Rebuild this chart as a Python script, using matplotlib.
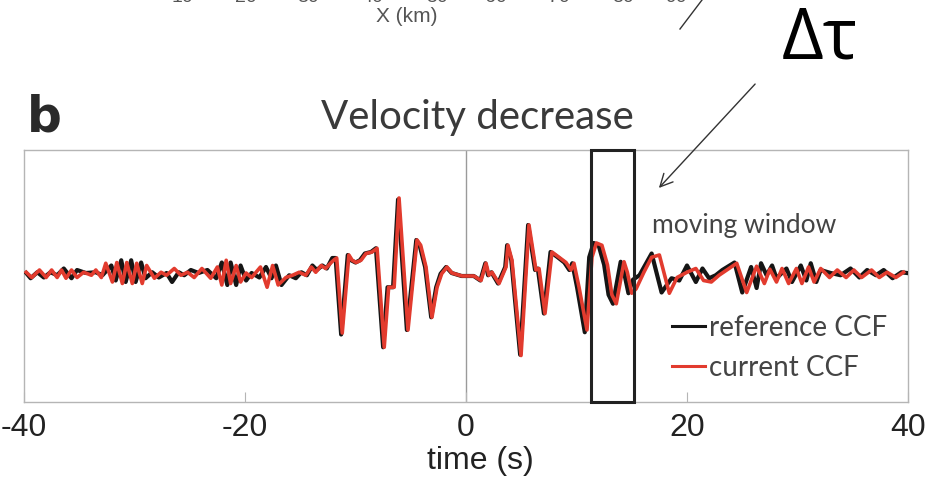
import matplotlib.pyplot as plt
from matplotlib.lines import Line2D
from matplotlib.patches import Rectangle
import matplotlib.transforms as mtransforms

# current CCF (after the velocity drop), time in s, amplitude normalised
cur_time = [
    -39.8, -39.3, -38.6, -38.0, -37.5, -37.0, -36.6, -36.2, -35.7, -35.2,
    -34.6, -33.9, -33.5, -33.0, -32.6, -32.0, -31.6, -31.1, -30.7, -30.2,
    -29.8, -29.3, -28.9, -28.2, -27.6, -27.1, -26.4, -25.8, -25.2, -24.6,
    -23.9, -23.1, -22.5, -22.1, -21.7, -21.3, -20.8, -20.4, -19.9, -19.4,
    -18.6, -18.0, -17.5, -17.0, -16.3, -15.7, -15.1, -14.5, -14.0, -13.6,
    -13.1, -12.7, -12.2, -11.9, -11.7, -11.2, -10.6, -10.3, -9.95, -9.5,
    -9.05, -8.5, -8.05, -7.4, -7.0, -6.5, -6.06, -5.25, -4.43, -4.1,
    -3.62, -3.08, -2.62, -2.2, -1.72, -1.27, -0.36, 0.72, 1.36, 1.81,
    2.08, 2.35, 2.99, 3.62, 3.80, 4.16, 4.98, 5.70, 6.33, 6.61,
    7.15, 7.78, 8.42, 9.05, 9.50, 9.77, 10.23, 10.95, 11.4, 11.8,
    12.3, 12.8, 13.2, 13.6, 14.0, 14.3, 14.6, 15.0, 15.4, 16.1,
    16.8, 17.5, 18.4, 19.1, 20.0, 20.8, 21.5, 22.2, 22.9, 23.6,
    24.5, 25.4, 26.3, 27.0, 27.5, 28.1, 28.6, 29.2, 29.9, 30.4,
    31.0, 31.5, 32.1, 32.9, 33.6, 34.4, 35.1, 35.8, 36.7, 37.4,
    38.1, 38.9, 39.6,
]
cur_amp = [
    0.00, -0.07, 0.03, -0.07, 0.03, -0.07, 0.03, -0.08, 0.03, -0.07,
    0.00, -0.04, 0.03, -0.07, 0.12, -0.13, 0.13, -0.15, 0.13, -0.15,
    0.12, -0.15, 0.09, -0.08, 0.00, -0.04, 0.05, -0.04, 0.00, -0.07,
    0.05, -0.08, 0.07, -0.17, 0.16, -0.15, 0.09, -0.13, -0.01, -0.07,
    0.07, -0.20, 0.09, -0.17, -0.07, -0.04, 0.00, -0.04, 0.07, 0.00,
    0.09, 0.05, 0.13, 0.17, 0.19, -0.81, 0.23, 0.16, 0.13, 0.16,
    0.25, 0.27, 0.32, -1.00, -0.20, -0.20, 0.99, -0.77, 0.43, 0.36,
    0.07, -0.60, -0.20, -0.02, 0.07, -0.01, -0.05, -0.05, -0.11, 0.12,
    -0.04, 0.00, -0.15, 0.07, 0.36, 0.16, -1.11, 0.63, 0.03, 0.05,
    -0.55, 0.27, 0.20, 0.13, 0.03, 0.12, -0.20, -0.77, 0.20, 0.39,
    0.36, 0.10, -0.30, -0.42, -0.10, 0.14, 0.00, -0.28, -0.22, 0.00,
    0.20, 0.23, -0.28, -0.07, 0.00, 0.05, -0.11, -0.13, -0.04, 0.03,
    0.12, -0.27, 0.08, -0.15, 0.04, -0.13, 0.05, -0.15, 0.05, -0.15,
    0.07, -0.13, 0.05, -0.07, 0.03, -0.07, 0.03, -0.07, 0.03, -0.07,
    0.00, -0.07, 0.00,
]

# reference CCF
ref_time = [
    -39.8, -39.4, -38.8, -38.2, -37.6, -37.0, -36.4, -35.7, -35.2, -34.4,
    -33.5, -32.9, -32.1, -31.7, -31.2, -30.8, -30.3, -29.9, -29.4, -29.0,
    -28.4, -27.8, -27.1, -26.6, -26.0, -25.5, -24.9, -24.2, -23.4, -22.6,
    -22.1, -21.6, -21.3, -20.8, -20.4, -19.9, -19.4, -18.7, -18.1, -17.6,
    -17.2, -16.7, -16.0, -15.4, -14.9, -14.4, -13.9, -13.5, -13.0, -12.6,
    -12.1, -11.8, -11.3, -10.7, -10.4, -10.0, -9.6, -9.15, -8.6, -8.15,
    -7.5, -7.1, -6.6, -6.15, -5.35, -4.5, -4.2, -3.7, -3.15, -2.7,
    -2.3, -1.8, -1.3, -0.4, 0.7, 1.3, 1.75, 2.0, 2.3, 2.9,
    3.55, 3.72, 4.1, 4.9, 5.62, 6.25, 6.5, 7.05, 7.65, 8.3,
    8.9, 9.35, 9.62, 10.05, 10.75, 11.15, 11.55, 12.0, 12.5, 12.9,
    13.3, 13.7, 14.0, 14.3, 14.7, 15.1, 15.7, 16.8, 17.7, 18.6,
    19.3, 20.0, 20.8, 21.4, 22.0, 22.6, 23.2, 24.3, 25.0, 25.8,
    26.3, 26.7, 27.2, 27.7, 28.1, 29.0, 29.5, 30.3, 30.8, 31.2,
    31.7, 32.1, 33.0, 33.9, 34.8, 35.6, 36.3, 37.1, 37.8, 38.6,
    39.4, 39.9,
]
ref_amp = [
    -0.01, -0.08, 0.00, -0.07, 0.00, -0.04, 0.05, -0.08, 0.03, -0.01,
    0.00, -0.04, 0.09, -0.11, 0.16, -0.13, 0.16, -0.13, 0.13, -0.08,
    0.00, -0.07, -0.01, -0.13, 0.00, -0.04, 0.03, -0.01, 0.03, -0.08,
    0.13, -0.17, 0.13, -0.17, 0.09, -0.11, -0.01, -0.07, 0.07, -0.08,
    0.09, -0.17, -0.04, -0.08, 0.00, -0.04, 0.09, 0.03, 0.09, 0.05,
    0.19, 0.19, -0.83, 0.23, 0.16, 0.13, 0.16, 0.25, 0.27, 0.32,
    -1.00, -0.20, -0.20, 0.97, -0.77, 0.43, 0.36, 0.07, -0.60, -0.20,
    -0.02, 0.07, -0.01, -0.05, -0.05, -0.11, 0.12, -0.04, 0.00, -0.15,
    0.07, 0.36, 0.16, -1.10, 0.63, 0.03, 0.05, -0.55, 0.27, 0.20,
    0.13, 0.03, 0.12, -0.20, -0.80, 0.20, 0.39, 0.36, 0.10, -0.30,
    -0.42, -0.10, 0.14, 0.00, -0.28, -0.10, -0.04, 0.25, -0.27, -0.08,
    -0.11, 0.09, -0.13, 0.05, -0.08, -0.04, 0.03, 0.13, -0.27, 0.07,
    -0.21, 0.12, -0.04, 0.09, -0.08, 0.05, -0.13, 0.09, -0.11, 0.12,
    -0.13, 0.03, -0.01, -0.04, 0.05, -0.07, 0.03, -0.04, 0.03, -0.08,
    0.00, -0.01,
]

time_ticks = [-40, -20, 0, 20, 40]
window_start, window_end = 11.3, 15.2
top_axis_labels = ["10", "20", "30", "40", "50", "60", "70", "80", "90"]
top_label_x = [182, 246, 308, 372, 437, 496, 559, 623, 676]

RED = "#e23b2e"
GREY = "#9a9a9a"
TEXT = "#444444"
narrow = ["Liberation Sans Narrow", "Liberation Sans", "DejaVu Sans"]
geo = ["Lato", "DejaVu Sans"]

W, H = 930, 488
fig = plt.figure(figsize=(W / 100, H / 100), dpi=100)
ax = fig.add_axes([24 / W, 1 - 402 / H, 884 / W, 252 / H])

ax.plot(ref_time, ref_amp, color="#151515", lw=3.0, solid_joinstyle="round",
        label="reference CCF", zorder=3)
ax.plot(cur_time, cur_amp, color=RED, lw=2.6, solid_joinstyle="round",
        label="current CCF", zorder=4)

ax.set_xlim(-40, 40)
ax.set_ylim(-1.73, 1.63)
ax.axvline(0, color=GREY, lw=1.0, zorder=1)

# moving window box spanning the full height of the axes
trans = mtransforms.blended_transform_factory(ax.transData, ax.transAxes)
ax.add_patch(Rectangle((window_start, 0), window_end - window_start, 1,
                       transform=trans, fill=False, edgecolor="#222222",
                       lw=2.2, zorder=5, clip_on=False))

for side in ax.spines.values():
    side.set_color("#b5b5b5")
    side.set_linewidth(1.0)
ax.set_yticks([])
ax.set_xticks(time_ticks)
ax.set_xticklabels([str(t) for t in time_ticks], family=narrow, fontsize=23,
                   color="#222222")
ax.tick_params(axis="x", direction="in", length=7, color="#b5b5b5", pad=8)
ax.set_xlabel("time (s)", family=narrow, fontsize=23, color="#222222", labelpad=4)
ax.xaxis.set_label_coords((480 - 24) / 884, -0.175)

ax.text(16.8, 0.62, "moving window", family=geo, fontsize=19, color=TEXT,
        va="center", ha="left")

handles = [Line2D([0], [0], color="#151515", lw=2.2),
           Line2D([0], [0], color=RED, lw=2.2)]
ax.legend(handles, ["reference CCF", "current CCF"], loc="upper left",
          bbox_to_anchor=((672 - 24) / 884, (402 - 315) / 252), frameon=False,
          borderpad=0, borderaxespad=0, handlelength=1.2, handletextpad=0.12,
          labelspacing=0.5, prop={"family": geo, "size": 20},
          labelcolor=TEXT)

# panel header
fig.text(44 / W, 1 - 117 / H, "b", fontsize=35, fontweight="bold",
         color="#2a2a2a", ha="center", va="center")
fig.text(477 / W, 1 - 117 / H, "Velocity decrease", family=geo,
         fontsize=29, color="#3a3a3a", ha="center", va="center")

# bottom of the panel above
for lab, px in zip(top_axis_labels, top_label_x):
    fig.text(px / W, 1 - 2 / H, lab, family=narrow, fontsize=14, color="#555555",
             ha="center", va="baseline")
fig.text(407 / W, 1 - 16 / H, "X (km)", family=narrow, fontsize=15,
         color="#555555", ha="center", va="center")
fig.add_artist(Line2D([702 / W, 680 / W], [1.0, 1 - 29 / H],
                      transform=fig.transFigure, color="#333333", lw=1.0))

fig.text(820 / W, 1 - 40 / H, "Δτ", family=["Open Sans", "DejaVu Sans"],
         fontsize=52, color="black", ha="center", va="center")
ax.annotate("", xy=(657 / W, 1 - 190 / H), xytext=(757 / W, 1 - 82 / H),
            xycoords="figure fraction", textcoords="figure fraction",
            arrowprops=dict(arrowstyle="->,head_length=0.9,head_width=0.45",
                            color="#333333", lw=1.0))

fig.savefig("out.png", dpi=100)
